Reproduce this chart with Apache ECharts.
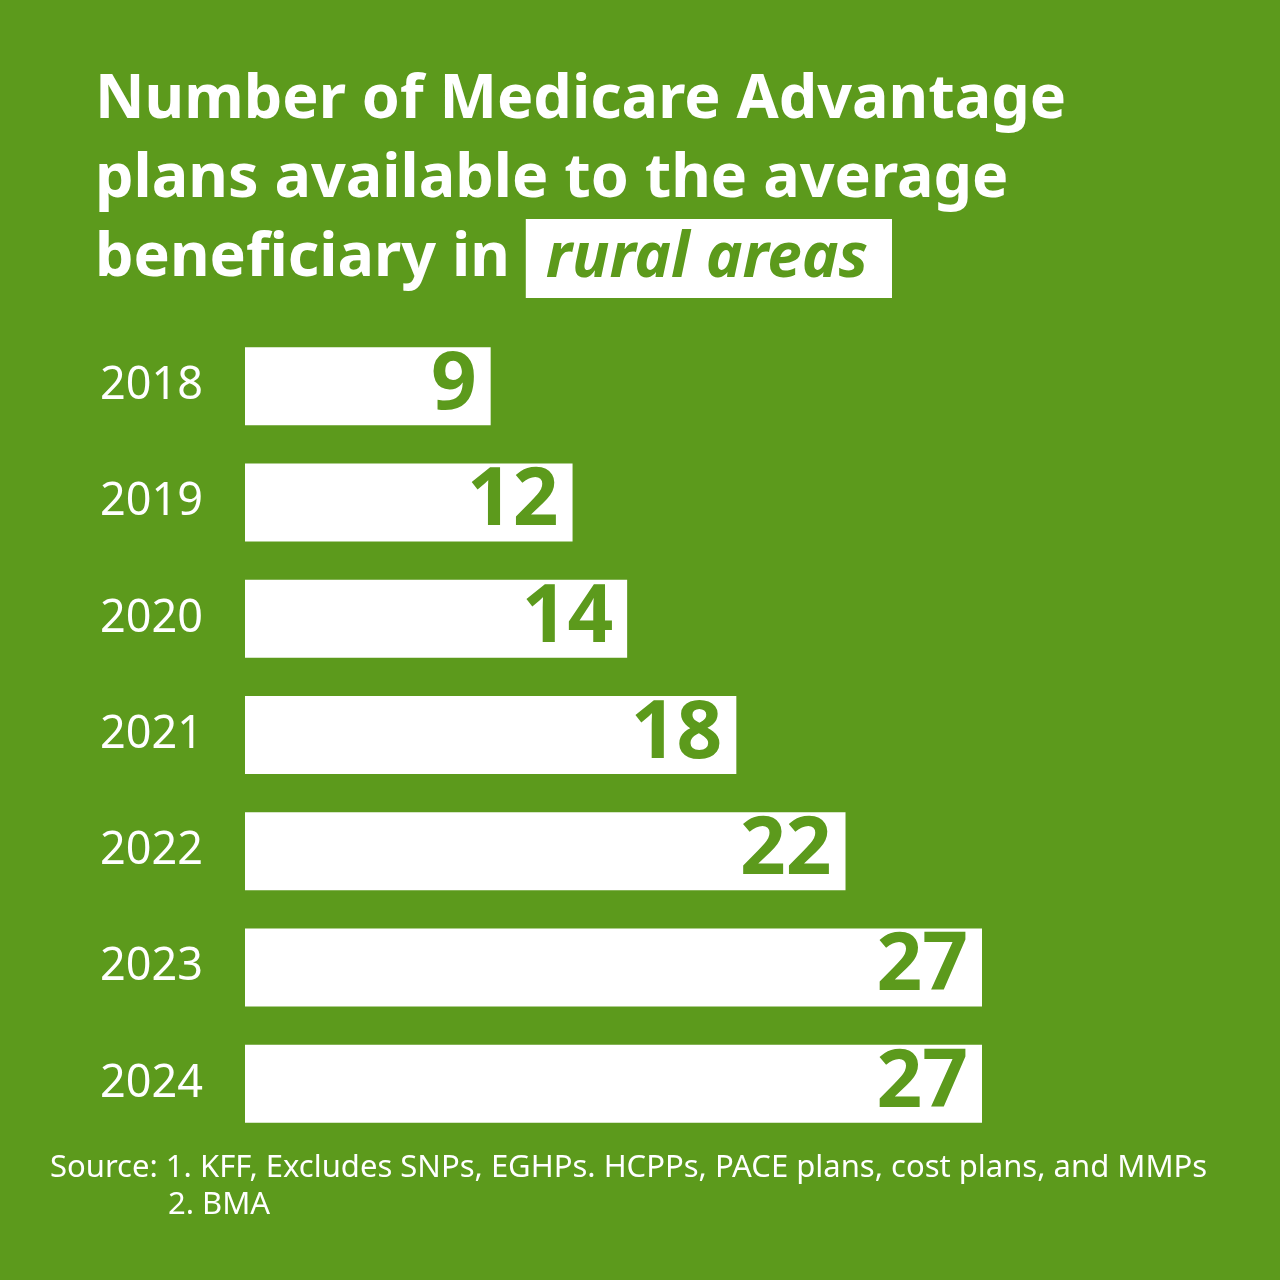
<!DOCTYPE html>
<html>
<head>
<meta charset="utf-8">
<script src="https://cdn.jsdelivr.net/npm/echarts@6/dist/echarts.min.js"></script>
<style>
  html, body { margin: 0; padding: 0; background: #5c9a1c; }
  #chart { width: 1280px; height: 1280px; }
</style>
</head>
<body>
<div id="chart"></div>
<script>
// 年份 & 数值
var years = ['2018', '2019', '2020', '2021', '2022', '2023', '2024'];
var plans = [9, 12, 14, 18, 22, 27, 27];

var titleLines = [
    'Number of Medicare Advantage',
    'plans available to the average',
    'beneficiary in '
];
var titleHighlight = 'rural areas';
var sourceLines = [
    'Source: 1. KFF, Excludes SNPs, EGHPs. HCPPs, PACE plans, cost plans, and MMPs',
    '2. BMA'
];

var green = '#5c9a1c';
var font = 'Noto Sans';

var option = {
    backgroundColor: green,
    animation: false,
    title: {
        text: titleLines[0] + '\n' + titleLines[1] + '\n' + titleLines[2] + '{box|' + titleHighlight + '}',
        left: 90,
        top: 56,
        textStyle: {
            color: '#fff',
            fontFamily: font,
            fontWeight: 'bold',
            fontSize: 61,
            lineHeight: 79,
            rich: {
                box: {
                    color: green,
                    backgroundColor: '#fff',
                    fontFamily: font,
                    fontWeight: 'bold',
                    fontStyle: 'italic',
                    fontSize: 62,
                    lineHeight: 61,
                    padding: [9, 24, 8, 20]
                }
            }
        }
    },
    grid: {
        left: 245,
        right: 298,
        top: 328,
        bottom: 138,
        containLabel: false
    },
    xAxis: {
        type: 'value',
        min: 0,
        max: 27,
        show: false
    },
    yAxis: {
        type: 'category',
        data: years,
        inverse: true,
        axisLine: { show: false },
        axisTick: { show: false },
        splitLine: { show: false },
        axisLabel: {
            color: '#fff',
            fontFamily: font,
            fontSize: 45,
            margin: 42,
            padding: [4, 0, 0, 0]
        }
    },
    series: [{
        type: 'bar',
        data: plans,
        barWidth: 78,
        itemStyle: { color: '#fff' },
        label: {
            show: true,
            position: 'insideRight',
            distance: 14,
            color: green,
            fontFamily: font,
            fontWeight: 'bold',
            fontSize: 80
        }
    }],
    graphic: [{
        type: 'text',
        left: 50,
        top: 1153,
        style: {
            text: sourceLines[0],
            fill: '#fff',
            font: '31px "Noto Sans"'
        }
    }, {
        type: 'text',
        left: 168,
        top: 1190,
        style: {
            text: sourceLines[1],
            fill: '#fff',
            font: '31px "Noto Sans"'
        }
    }]
};

var myChart = echarts.init(document.getElementById('chart'));
myChart.setOption(option);

window.addEventListener('resize', function () {
    myChart.resize();
});
</script>
</body>
</html>
